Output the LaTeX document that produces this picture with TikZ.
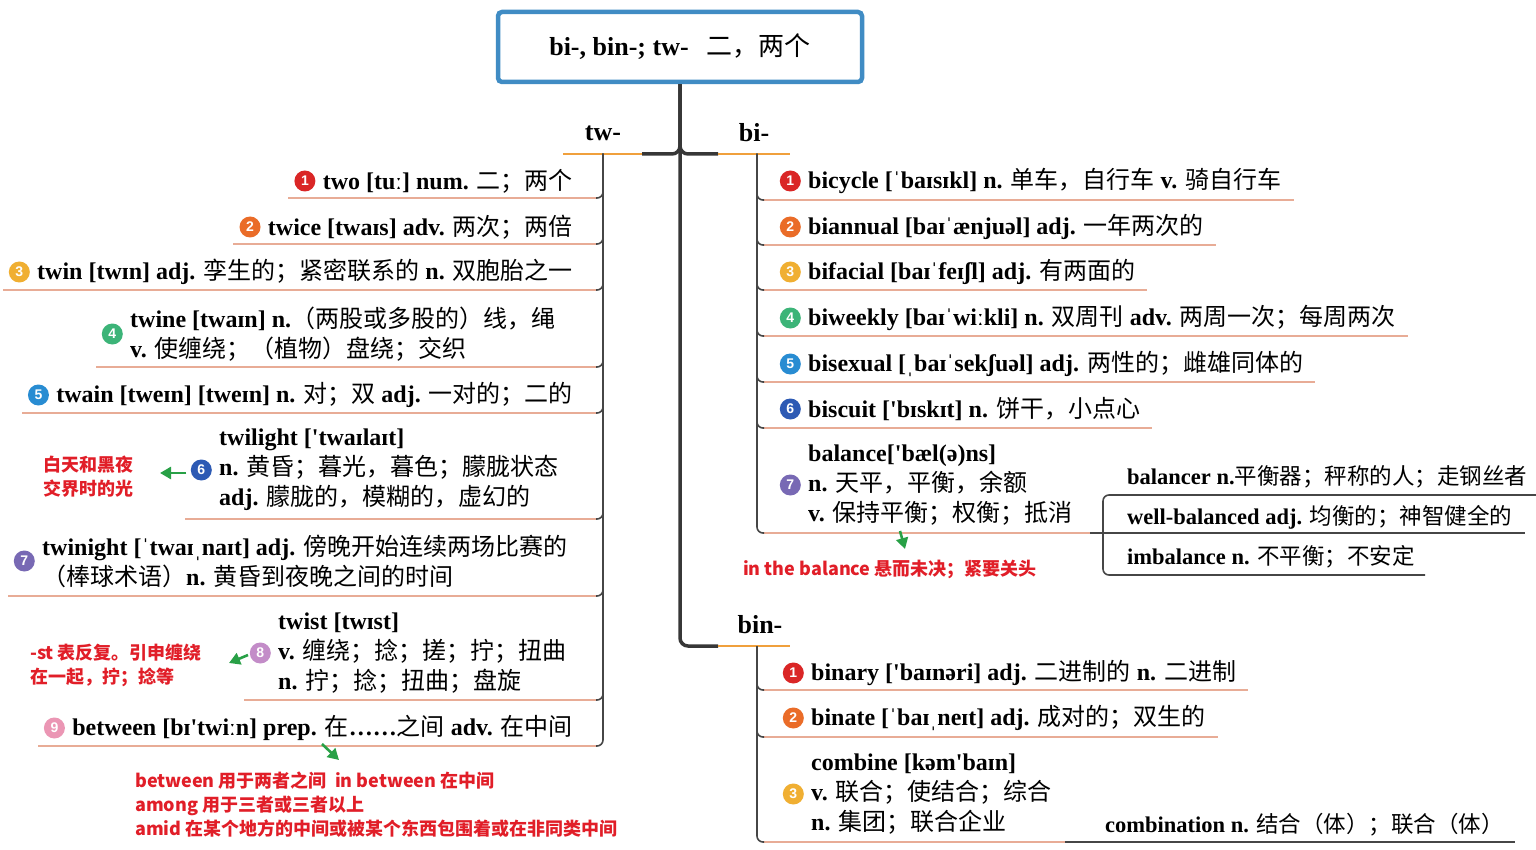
\documentclass[tikz,border=0pt]{standalone}
\usepackage{fontspec}
\setmainfont{Liberation Serif}
\newfontfamily\cjkfont{Noto Sans CJK SC}
\newfontfamily\numfont{Liberation Sans}
\usetikzlibrary{positioning,calc,arrows.meta}

\XeTeXinterchartokenstate=1
\newXeTeXintercharclass\cjkclass
\newcount\cjkcnt
\newcommand\cjkrange[2]{\cjkcnt=#1\relax
  \loop\XeTeXcharclass\cjkcnt=\cjkclass\relax
  \ifnum\cjkcnt<#2\relax\advance\cjkcnt by 1\relax\repeat}
\cjkrange{"3000}{"303F}
\cjkrange{"4E00}{"9FFF}
\cjkrange{"FF00}{"FFEF}
\newcommand\cjkswitch{\cjkfont\mdseries}
\XeTeXinterchartoks 0 \cjkclass = {\begingroup\cjkswitch}
\XeTeXinterchartoks 4095 \cjkclass = {\begingroup\cjkswitch}
\XeTeXinterchartoks \cjkclass 0 = {\endgroup}
\XeTeXinterchartoks \cjkclass 4095 = {\endgroup}
\newcommand\notesetup{\fontsize{18}{24}\selectfont\cjkfont\bfseries\def\cjkswitch{}}
\newcommand\q{\textquotesingle}

\definecolor{boxblue}{RGB}{64,140,196}
\definecolor{trunkc}{RGB}{55,55,55}
\definecolor{spinec}{RGB}{70,70,70}
\definecolor{ulc}{RGB}{232,172,150}
\definecolor{orc}{RGB}{240,160,60}
\definecolor{notered}{RGB}{225,30,40}
\definecolor{greenc}{RGB}{40,160,70}
\definecolor{c1}{RGB}{218,38,38}
\definecolor{c2}{RGB}{234,108,40}
\definecolor{c3}{RGB}{240,175,50}
\definecolor{c4}{RGB}{60,180,120}
\definecolor{c5}{RGB}{40,140,210}
\definecolor{c6}{RGB}{45,90,180}
\definecolor{c7}{RGB}{120,105,180}
\definecolor{c8}{RGB}{195,140,200}
\definecolor{c9}{RGB}{235,150,180}

\tikzset{
  item/.style={inner sep=0pt, font=\fontsize{24}{30}\selectfont\bfseries, align=left},
  subitem/.style={inner sep=0pt, font=\fontsize{22.5}{28}\selectfont\bfseries, anchor=west},
  lab/.style={inner sep=0pt, font=\fontsize{26}{30}\selectfont\bfseries},
  note/.style={inner sep=0pt, text=notered, font=\notesetup, align=left},
  num/.style={circle, inner sep=0pt, minimum size=21pt, fill=#1, text=white, font=\numfont\bfseries\fontsize{14}{14}\selectfont},
  trunk/.style={draw=trunkc, line width=3.5pt, rounded corners=8pt},
  spine/.style={draw=spinec, line width=1.6pt, rounded corners=6pt},
  ul/.style={draw=ulc, line width=2pt},
  orl/.style={draw=orc, line width=2.5pt},
  garrow/.style={draw=greenc, line width=2.6pt, -{Triangle[length=11pt,width=12pt]}, fill=greenc},
}

\begin{document}
\begin{tikzpicture}[x=1pt,y=-1pt]
\useasboundingbox[fill=white] (0,0) rectangle (1536,850);

% root
\node[draw=boxblue, line width=4.5pt, rounded corners=4pt, minimum width=364pt, minimum height=70pt, inner sep=0pt,
  font=\fontsize{26}{30}\selectfont\bfseries] (root) at (680,47) {bi-, bin-; tw-\hspace{18pt}二，两个};

% branch labels
\node[lab] (tw) at (603,133) {tw-};
\node[lab] (bi) at (754,133) {bi-};
\node[lab] (bin) at (760,625) {bin-};

\coordinate (twC) at (642,154);
\coordinate (twE) at (563,154);
\coordinate (biC) at (718,154);
\coordinate (biE) at (790,154);
\coordinate (binC) at (718,646);
\coordinate (binE) at (790,646);
\coordinate (twS) at (603,154);
\coordinate (biS) at (757,154);
\coordinate (binS) at (757,646);

\draw[trunk] (root.south) |- (binC);
\draw[trunk] (root.south) |- (twC);
\draw[trunk] (root.south) |- (biC);
\draw[orl] (twC) -- (twE);
\draw[orl] (biC) -- (biE);
\draw[orl] (binC) -- (binE);

% ---------- tw- items ----------
\node[item, anchor=east] (a1) at (573,181) {two [tuː] num. 二；两个};
\node[item, anchor=east] (a2) at (573,227) {twice [twaɪs] adv. 两次；两倍};
\node[item, anchor=east] (a3) at (573,272) {twin [twɪn] adj. 孪生的；紧密联系的 n. 双胞胎之一};
\node[item, anchor=west] (a4) at (130,334) {twine [twaɪn] n.（两股或多股的）线，绳\\v. 使缠绕；（植物）盘绕；交织};
\node[item, anchor=east] (a5) at (573,395) {twain [tweɪn] [tweɪn] n. 对；双 adj. 一对的；二的};
\node[item, anchor=west] (a6) at (219,470) {twilight [\q twaɪlaɪt]\\n. 黄昏；暮光，暮色；朦胧状态\\adj. 朦胧的，模糊的，虚幻的};
\node[item, anchor=west] (a7) at (42,561) {twinight [ˈtwaɪˌnaɪt] adj. 傍晚开始连续两场比赛的\\（棒球术语）n. 黄昏到夜晚之间的时间};
\node[item, anchor=west] (a8) at (278,653) {twist [twɪst]\\v. 缠绕；捻；搓；拧；扭曲\\n. 拧；捻；扭曲；盘旋};
\node[item, anchor=east] (a9) at (573,728) {between [bɪ\q twiːn] prep. 在……之间 adv. 在中间};

\node[num=c1, left=7pt of a1] (ia1) {1};
\node[num=c2, left=7pt of a2] (ia2) {2};
\node[num=c3, left=7pt of a3] (ia3) {3};
\node[num=c4, left=7pt of a4] (ia4) {4};
\node[num=c5, left=7pt of a5] (ia5) {5};
\node[num=c6, left=7pt of a6] (ia6) {6};
\node[num=c7, left=7pt of a7] (ia7) {7};
\node[num=c8, left=7pt of a8] (ia8) {8};
\node[num=c9, left=7pt of a9] (ia9) {9};

\foreach \i/\y in {1/198,2/244,3/290,4/367,5/413,6/519,7/596,8/700,9/746}{
  \coordinate (l\i) at (596,\y);
  \draw[ul] (l\i) -- ($(ia\i.west |- l\i)+(-6,0)$);
  \draw[spine] (twS) |- (l\i);
}

% ---------- bi- items ----------
\node[item, anchor=west] (b1) at (808,181) {bicycle [ˈbaɪsɪkl] n. 单车，自行车 v. 骑自行车};
\node[item, anchor=west] (b2) at (808,227) {biannual [baɪˈænjuəl] adj. 一年两次的};
\node[item, anchor=west] (b3) at (808,272) {bifacial [baɪˈfeɪʃl] adj. 有两面的};
\node[item, anchor=west] (b4) at (808,318) {biweekly [baɪˈwiːkli] n. 双周刊 adv. 两周一次；每周两次};
\node[item, anchor=west] (b5) at (808,364) {bisexual [ˌbaɪˈsekʃuəl] adj. 两性的；雌雄同体的};
\node[item, anchor=west] (b6) at (808,409) {biscuit [\q bɪskɪt] n. 饼干，小点心};
\node[item, anchor=west] (b7) at (808,485) {balance[\q bæl(ə)ns]\\n. 天平，平衡，余额\\v. 保持平衡；权衡；抵消};

\node[num=c1, left=7pt of b1] (ib1) {1};
\node[num=c2, left=7pt of b2] (ib2) {2};
\node[num=c3, left=7pt of b3] (ib3) {3};
\node[num=c4, left=7pt of b4] (ib4) {4};
\node[num=c5, left=7pt of b5] (ib5) {5};
\node[num=c6, left=7pt of b6] (ib6) {6};
\node[num=c7, left=7pt of b7] (ib7) {7};

\foreach \i/\y in {1/200,2/245,3/290,4/336,5/382,6/428}{
  \coordinate (r\i) at (764,\y);
  \draw[ul] (r\i) -- ($(b\i.east |- r\i)+(12,0)$);
  \draw[spine] (biS) |- (r\i);
}
\coordinate (r7) at (764,533);
\coordinate (balJ) at (1090,533);
\coordinate (balS) at (1103,533);
\draw[ul] (r7) -- (balJ);
\draw[spine] (biS) |- (r7);

% balance sub-branches
\node[subitem] (s1) at (1127,477) {balancer n.平衡器；秤称的人；走钢丝者};
\node[subitem] (s2) at (1127,517) {well-balanced adj. 均衡的；神智健全的};
\node[subitem] (s3) at (1127,557) {imbalance n. 不平衡；不安定};
\coordinate (s1e) at (1536,495);
\coordinate (s2e) at (1525,533);
\coordinate (s3e) at (1425,575);
\draw[spine] (balJ) -- (s2e);
\draw[spine] (balS) |- (s1e);
\draw[spine] (balS) |- (s3e);

% ---------- bin- items ----------
\node[item, anchor=west] (c1n) at (811,673) {binary [\q baɪnəri] adj. 二进制的 n. 二进制};
\node[item, anchor=west] (c2n) at (811,718) {binate [ˈbaɪˌneɪt] adj. 成对的；双生的};
\node[item, anchor=west] (c3n) at (811,794) {combine [kəm\q baɪn]\\v. 联合；使结合；综合\\n. 集团；联合企业};
\node[subitem] (cc) at (1105,825) {combination n. 结合（体）；联合（体）};

\node[num=c1, left=7pt of c1n] (ic1) {1};
\node[num=c2, left=7pt of c2n] (ic2) {2};
\node[num=c3, left=7pt of c3n] (ic3) {3};

\foreach \i/\y in {1/690,2/737}{
  \coordinate (q\i) at (764,\y);
  \draw[ul] (q\i) -- ($(c\i n.east |- q\i)+(12,0)$);
  \draw[spine] (binS) |- (q\i);
}
\coordinate (q3) at (764,842);
\coordinate (cJ) at (1065,842);
\coordinate (cE) at (1515,842);
\draw[ul] (q3) -- (cJ);
\draw[spine] (cJ) -- (cE);
\draw[spine] (binS) |- (q3);

% ---------- red notes ----------
\node[note, align=center] (n6) at (88,477) {白天和黑夜\\交界时的光};
\node[note, anchor=west] (n8) at (30,665) {-st 表反复。引申缠绕\\在一起，拧；捻等};
\node[note, anchor=west] (n9) at (135,805) {between 用于两者之间\ \ in between 在中间\\among 用于三者或三者以上\\amid 在某个地方的中间或被某个东西包围着或在非同类中间};
\node[note, anchor=west] (nb) at (743,569) {in the balance 悬而未决；紧要关头};

% green arrows
\coordinate (g6a) at (186,473);
\coordinate (g6b) at (160,473);
\coordinate (g8a) at (248,655);
\coordinate (g8b) at (229,663);
\coordinate (g9a) at (322,744);
\coordinate (g9b) at (339,760);
\coordinate (gba) at (900,531);
\coordinate (gbb) at (905,549);
\draw[garrow] (g6a) -- (g6b);
\draw[garrow] (g8a) -- (g8b);
\draw[garrow] (g9a) -- (g9b);
\draw[garrow] (gba) -- (gbb);
\end{tikzpicture}
\end{document}
